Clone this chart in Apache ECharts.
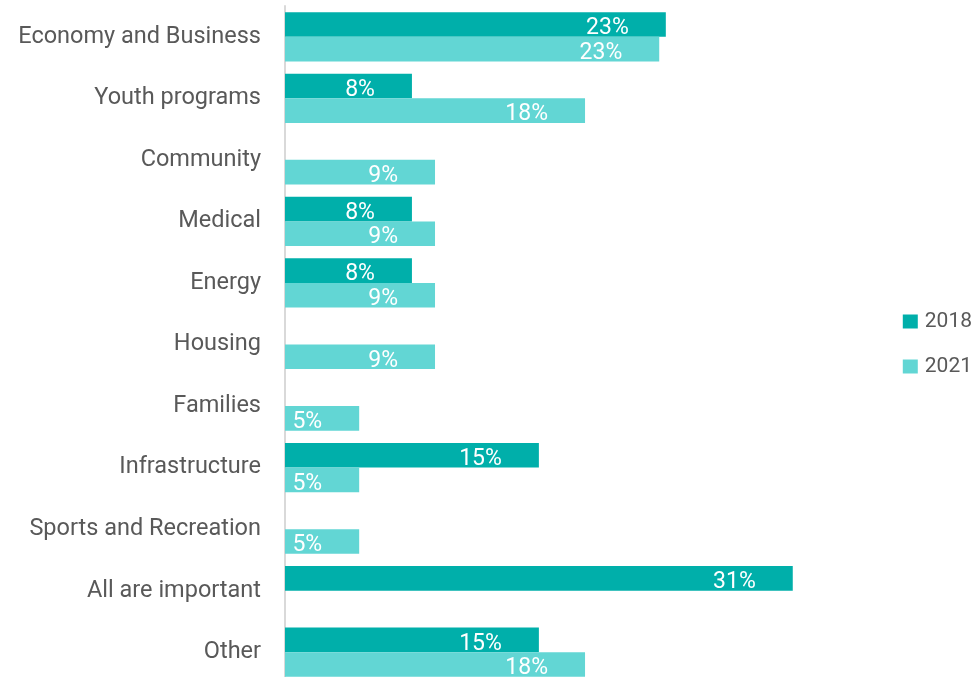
<!DOCTYPE html>
<html>
<head>
<meta charset="utf-8">
<script src="https://cdn.jsdelivr.net/npm/echarts@6/dist/echarts.min.js"></script>
<style>
  html, body { margin: 0; padding: 0; background: #ffffff; }
  #chart { width: 979px; height: 677px; }
</style>
</head>
<body>
<div id="chart"></div>
<script>
// Priority areas named by respondents, share of responses per survey year
const categories = [
  'Economy and Business', 'Youth programs', 'Community', 'Medical', 'Energy',
  'Housing', 'Families', 'Infrastructure', 'Sports and Recreation',
  'All are important', 'Other'
];
const years = ['2018', '2021'];
const values2018 = [23.1, 7.7, null, 7.7, 7.7, null, null, 15.4, null, 30.8, 15.4];
const values2021 = [22.7, 18.2, 9.1, 9.1, 9.1, 9.1, 4.5, 4.5, 4.5, null, 18.2];

const colors = ['#00AFAA', '#62D6D4'];
const fontFamily = 'Roboto, "Noto Sans", sans-serif';

const chart = echarts.init(document.getElementById('chart'), null, { renderer: 'canvas' });

const barLabel = {
  show: true,
  position: 'insideRight',
  offset: [-32, 4],
  color: '#ffffff',
  fontSize: 23,
  fontFamily: fontFamily,
  formatter: p => Math.round(p.value) + '%'
};

chart.setOption({
  animation: false,
  backgroundColor: '#ffffff',
  // the last row runs slightly past the bottom edge, so the plot area is not clamped
  grid: { left: 285, width: 577, top: 6, height: 677, containLabel: false, outerBoundsMode: 'none' },
  legend: {
    orient: 'vertical',
    right: 2,
    top: 306,
    itemWidth: 15,
    itemHeight: 14,
    itemGap: 24,
    icon: 'rect',
    textStyle: { color: '#595959', fontSize: 21, fontFamily: fontFamily, padding: [0, 0, 0, 2] },
    data: years
  },
  xAxis: {
    type: 'value',
    min: 0,
    max: 35,
    show: false
  },
  yAxis: {
    type: 'category',
    inverse: true,
    data: categories,
    axisLine: { show: true, lineStyle: { color: '#d9d9d9', width: 2 } },
    axisTick: { show: false },
    axisLabel: { color: '#595959', fontSize: 23.5, fontFamily: fontFamily, margin: 24, padding: [8, 0, 0, 0] }
  },
  series: [
    {
      name: years[0],
      type: 'bar',
      data: values2018,
      barGap: '0%',
      barCategoryGap: '20%',
      itemStyle: { color: colors[0] },
      label: barLabel
    },
    {
      name: years[1],
      type: 'bar',
      data: values2021,
      barGap: '0%',
      barCategoryGap: '20%',
      itemStyle: { color: colors[1] },
      label: barLabel
    }
  ]
});
</script>
</body>
</html>
